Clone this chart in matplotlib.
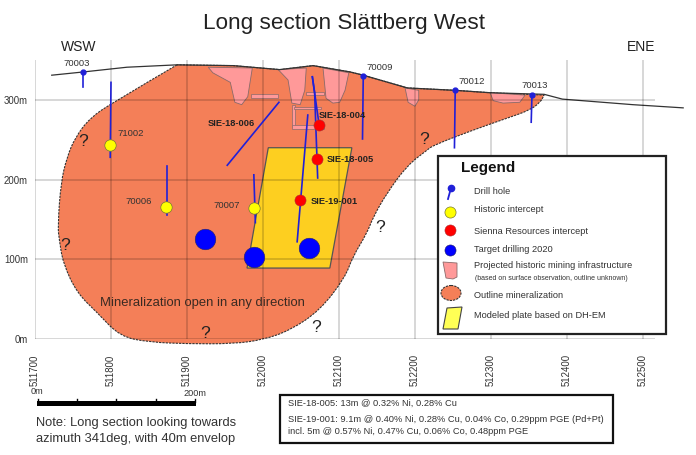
import matplotlib
matplotlib.use("Agg")
import matplotlib.pyplot as plt
from matplotlib.patches import Polygon, Rectangle, Ellipse, PathPatch
from matplotlib.path import Path

plt.rcParams['font.family'] = ['Liberation Sans', 'DejaVu Sans']

# --- section data, easting / elevation (m) ---
outline_e = [511887, 511801, 511772, 511753, 511742, 511734, 511730, 511732, 511737, 511755,
             511782, 511812, 511851, 511900, 511961, 512000, 512036, 512075, 512108, 512118,
             512137, 512145, 512163, 512190, 512216, 512224, 512276, 512321, 512351, 512365,
             512370]
outline_z = [344, 296, 277, 253, 228, 196, 141, 124, 95, 58,
             33, 3, -4, -6, -6, -1, 11, 36, 77, 103,
             133, 153, 183, 218, 237, 243, 262, 277, 287, 297,
             306]
top_e = [512299, 512253, 512190, 512132, 512115, 512066, 512022, 511961, 511887]
top_z = [309, 312, 315, 331, 335, 343, 338, 343, 344]

terrain_e = [511722, 511763, 511821, 511887, 511961, 512022, 512066, 512115, 512132, 512190,
             512253, 512299, 512370, 512394, 512487, 512553]
terrain_z = [331, 335, 341, 344, 343, 338, 343, 335, 331, 315, 312, 309, 307, 301, 294, 290]

workings = [
    ([511928, 511934, 511957, 511963, 511972, 511980, 511986], [341, 334, 322, 297, 294, 304, 340]),
    ([512020, 512033, 512038, 512049, 512055, 512057], [338, 325, 296, 294, 312, 340]),
    ([512079, 512083, 512092, 512101, 512108, 512113], [340, 302, 296, 297, 312, 334]),
    ([512187, 512191, 512200, 512205, 512205], [315, 297, 292, 300, 312]),
    ([512299, 512303, 512316, 512338, 512345], [309, 299, 296, 297, 306]),
]
# levels and shaft: x0, z0, width, height
drifts = [
    (511984, 303, 36, 4),
    (512056, 306, 24, 4),
    (512038, 266, 4, 28),
    (512041, 288, 35, 3),
    (512038, 264, 42, 4),
]

plate_e = [512007, 512117, 512088, 511979]
plate_z = [240, 240, 89, 89]

holes = [
    ([511763, 511763], [335, 316]),
    ([511800, 511799], [322, 228]),
    ([511874, 511874], [217, 155]),
    ([511988, 511990], [206, 146]),
    ([512021, 511953], [297, 218]),
    ([512065, 512068, 512072], [329, 309, 202]),
    ([512065, 512074], [329, 268]),
    ([512059, 512045], [281, 122]),
    ([512132, 512131], [330, 251]),
    ([512253, 512252], [312, 240]),
    ([512354, 512353], [306, 272]),
]
collar_e = [511763, 512132, 512253, 512354]
collar_z = [335, 330, 312, 306]

historic_e = [511799, 511872, 511988]
historic_z = [243, 166, 164]
sienna_e = [512074, 512071, 512049]
sienna_z = [268, 226, 174]
target_e = [511924, 511988, 512061]
target_z = [125, 103, 114]

x_ticks = [511700, 511800, 511900, 512000, 512100, 512200, 512300, 512400, 512500]
y_ticks = [0, 100, 200, 300]
y_labels = ['0m', '100m', '200m', '300m']

hole_labels = [('70003', 77, 63), ('71002', 131, 134), ('70006', 139, 201), ('70007', 227, 206),
               ('70009', 380, 67), ('70012', 472, 82), ('70013', 535, 86)]
sie_labels = [('SIE-18-006', 208, 124), ('SIE-18-004', 319, 115),
              ('SIE-18-005', 327, 160), ('SIE-19-001', 311, 201)]
question_marks = [(83, 142), (65, 245), (205, 333), (316, 327), (380, 228), (424, 140)]

legend_items = [('Drill hole', 191), ('Historic intercept', 210), ('Sienna Resources intercept', 231),
                ('Target drilling 2020', 250), ('Projected historic mining infrastructure', 266),
                ('Outline mineralization', 295), ('Modeled plate based on DH-EM', 316)]
results = [('SIE-18-005: 13m @ 0.32% Ni, 0.28% Cu', 403),
           ('SIE-19-001: 9.1m @ 0.40% Ni, 0.28% Cu, 0.04% Co, 0.29ppm PGE (Pd+Pt)', 419),
           ('incl. 5m @ 0.57% Ni, 0.47% Cu, 0.06% Co, 0.48ppm PGE', 432)]

ORANGE = '#F47F58'
PINK = '#FF9999'
BLUE = '#2020D8'
TXT = '#333333'


def outline_path():
    # rounded along the dashed underside, straight along the surface
    pts = list(zip(outline_e, outline_z))
    verts = [pts[0]]
    codes = [Path.MOVETO]
    for a, b in zip(pts[1:-1], pts[2:]):
        verts += [a, ((a[0] + b[0]) / 2, (a[1] + b[1]) / 2)]
        codes += [Path.CURVE3, Path.CURVE3]
    verts.append(pts[-1])
    codes.append(Path.LINETO)
    for p in zip(top_e, top_z):
        verts.append(p)
        codes.append(Path.LINETO)
    return Path(verts, codes)


W, H = 696, 455
fig = plt.figure(figsize=(W / 100, H / 100), dpi=100)

# --- section axes, one px is 1.316 m across and 1.255 m up ---
ax = fig.add_axes([35 / W, (H - 339) / H, 620 / W, 279 / H])
ax.set_xlim(511700, 511700 + 620 * 1.316)
ax.set_ylim(0, 279 * 1.2547)
for s in ax.spines.values():
    s.set_visible(False)
ax.set_xticks(x_ticks)
ax.set_yticks(y_ticks)
ax.set_yticklabels(y_labels)
ax.tick_params(length=0, labelsize=6.9, labelcolor=TXT)
ax.tick_params(axis='x', labelrotation=90, pad=11)
ax.tick_params(axis='y', pad=5)
ax.set_axisbelow(False)
ax.grid(True, color='black', alpha=0.17, lw=1.3)

ax.add_patch(PathPatch(outline_path(), fc=ORANGE, ec='#333333', lw=0.8, ls=(0, (2, 1)),
                       clip_on=False, zorder=1))
for e, z in workings:
    ax.add_patch(Polygon(list(zip(e, z)), closed=True, fc=PINK, ec='#8a6a6a', lw=0.6, zorder=1.2))
for x0, z0, w, h in drifts:
    ax.add_patch(Rectangle((x0, z0), w, h, fc=PINK, ec='#8a6a6a', lw=0.5, zorder=1.2))
ax.add_patch(Polygon(list(zip(plate_e, plate_z)), closed=True, fc='#FDCF20', ec='#555555', lw=0.9, zorder=1.5))
ax.plot(terrain_e, terrain_z, color='#333333', lw=0.9, clip_on=False, zorder=2)

for e, z in holes:
    ax.plot(e, z, color=BLUE, lw=1.2, zorder=3)
ax.plot(collar_e, collar_z, 'o', color=BLUE, ms=3.5, zorder=3.2, ls='none')
ax.plot(historic_e, historic_z, 'o', mfc='#FFFF00', mec='#777733', mew=0.5, ms=8.2, ls='none', zorder=4)
ax.plot(sienna_e, sienna_z, 'o', mfc='#FF0000', mec='#aa3333', mew=0.4, ms=8, ls='none', zorder=4)
ax.plot(target_e, target_z, 'o', mfc='#0000FF', mec='#222266', mew=0.4, ms=14.8, ls='none', zorder=4)

# --- overlay in pixel coordinates for notes and legend ---
ov = fig.add_axes([0, 0, 1, 1])
ov.set_xlim(0, W)
ov.set_ylim(H, 0)
ov.axis('off')
ov.patch.set_alpha(0)

ov.text(344, 24, 'Long section Slättberg West', fontsize=16.2, color='#222222', ha='center', va='center')
ov.text(79, 47, 'WSW', fontsize=10, color='#222222', ha='center', va='center')
ov.text(641, 47, 'ENE', fontsize=10, color='#222222', ha='center', va='center')

for t, x, y in hole_labels:
    ov.text(x, y, t, fontsize=6.8, color=TXT, ha='center', va='center')
for t, x, y in sie_labels:
    ov.text(x, y, t, fontsize=6.7, fontweight='bold', color='#222222', ha='left', va='center')
for x, y in question_marks:
    ov.text(x, y, '?', fontsize=12.5, color='#222222', ha='center', va='center')
ov.text(202, 303, 'Mineralization open in any direction', fontsize=9.4, color='#3a2a22', ha='center', va='center')

# scale bar
ov.add_patch(Rectangle((37, 401), 159, 4.5, fc='black', ec='none'))
for x in [38, 77, 116, 156, 195]:
    ov.plot([x, x], [399, 402], color='black', lw=1)
ov.text(37, 392, '0m', fontsize=6.6, color=TXT, ha='center', va='center')
ov.text(195, 394, '200m', fontsize=6.6, color=TXT, ha='center', va='center')
ov.text(36, 423, 'Note: Long section looking towards', fontsize=9.3, color=TXT, ha='left', va='center')
ov.text(36, 439, 'azimuth 341deg, with 40m envelop', fontsize=9.3, color=TXT, ha='left', va='center')

# results box
ov.add_patch(Rectangle((280, 395), 333, 48, fc='white', ec='#111111', lw=1.6))
for t, y in results:
    ov.text(288, y, t, fontsize=6.7, color=TXT, ha='left', va='center')

# legend
ov.add_patch(Rectangle((438, 156), 228, 178, fc='white', ec='#222222', lw=1.6, zorder=5))
ov.text(461, 168, 'Legend', fontsize=11, fontweight='bold', color='#111111', ha='left', va='center', zorder=6)
for t, y in legend_items:
    ov.text(474, y, t, fontsize=6.7, color=TXT, ha='left', va='center', zorder=6)
ov.text(475, 278, '(based on surface observation, outline unknown)', fontsize=5, color=TXT, ha='left', va='center', zorder=6)
ov.plot([451, 448], [188, 199], color=BLUE, lw=1.3, zorder=6)
ov.plot([451], [188], 'o', color=BLUE, ms=4.5, zorder=6)
ov.plot([450], [212], 'o', mfc='#FFFF00', mec='#777733', mew=0.5, ms=8, zorder=6)
ov.plot([450], [230], 'o', mfc='#FF0000', mec='#aa3333', mew=0.4, ms=8, zorder=6)
ov.plot([450], [250], 'o', mfc='#0000FF', mec='#222266', mew=0.4, ms=8, zorder=6)
ov.add_patch(Polygon([(443, 262), (457, 263), (457, 277), (453, 279), (446, 278)], closed=True,
                     fc=PINK, ec='#8a6a6a', lw=0.6, zorder=6))
ov.add_patch(Ellipse((451, 293), 20, 15, fc=ORANGE, ec='#333333', lw=0.8, ls=(0, (2, 1)), zorder=6))
ov.add_patch(Polygon([(447, 308), (462, 307), (458, 329), (443, 329)], closed=True,
                     fc='#FFFF55', ec='#444444', lw=0.8, zorder=6))

fig.savefig('out.png', dpi=100)
